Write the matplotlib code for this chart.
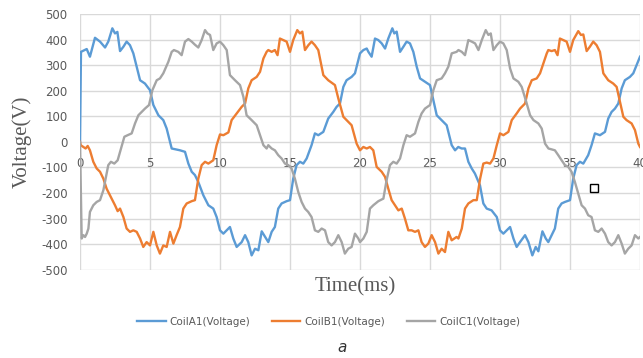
import matplotlib
matplotlib.use("Agg")
import matplotlib.pyplot as plt
from matplotlib.lines import Line2D

# ---- data: coil voltages (V) against time (ms) ----
t_a = [0, 0.07, 0.48, 0.71, 1.07, 1.43, 1.79, 2.02, 2.31, 2.5, 2.67, 2.86, 3.1, 3.33, 3.57, 3.81,
       4.05, 4.29, 4.64, 5.0, 5.24, 5.6, 5.95, 6.19, 6.55, 7.14, 7.5, 7.74, 7.98, 8.21, 8.45, 8.81,
       9.17, 9.52, 9.76, 10.0, 10.24, 10.48, 10.71, 10.95, 11.19, 11.55, 11.79, 12.02, 12.26, 12.5,
       12.74, 12.98, 13.45, 13.69, 13.92, 14.16, 14.4, 14.76, 15.0, 15.23, 15.47, 15.71, 15.95,
       16.19, 16.54, 16.78, 17.02, 17.38, 17.73, 18.09, 18.33, 18.57, 18.81, 19.04, 19.4, 19.64,
       20.0, 20.24, 20.48, 20.6, 20.83, 21.07, 21.31, 21.55, 21.79, 22.02, 22.31, 22.45, 22.62,
       22.86, 23.1, 23.33, 23.57, 23.81, 24.05, 24.29, 24.64, 25.0, 25.24, 25.48, 25.83, 26.19,
       26.55, 26.79, 27.02, 27.26, 27.5, 27.74, 27.98, 28.21, 28.57, 28.81, 29.05, 29.4, 29.77,
       30.0, 30.24, 30.48, 30.72, 30.96, 31.19, 31.43, 31.79, 32.03, 32.31, 32.55, 32.74, 33.03,
       33.27, 33.45, 33.69, 33.92, 34.16, 34.4, 34.64, 35.0, 35.23, 35.47, 35.71, 35.95, 36.3,
       36.54, 36.78, 37.14, 37.5, 37.73, 37.97, 38.21, 38.45, 38.69, 38.92, 39.28, 39.52, 39.76, 40.0]
v_a = [0, 352, 363, 333, 407, 392, 369, 392, 444, 424, 430, 355, 372, 392, 378, 346,
       294, 241, 228, 202, 144, 104, 85, 52, -26, -33, -39, -85, -117, -130, -157, -209,
       -248, -261, -294, -346, -359, -346, -333, -378, -411, -392, -365, -392, -444, -418,
       -424, -350, -392, -352, -333, -261, -241, -232, -228, -144, -91, -78, -85,
       -65, -13, 33, 26, 39, 91, 117, 137, 150, 215, 241, 254, 268,
       346, 359, 365, 352, 333, 404, 398, 385, 365, 404, 444, 424, 431,
       352, 372, 392, 385, 352, 294, 248, 235, 222, 163, 104, 85, 65,
       -13, -33, -20, -26, -26, -78, -104, -124, -170, -241, -261, -268, -294,
       -346, -359, -346, -333, -378, -411, -392, -365, -392, -444, -411, -428, -350,
       -378, -392, -365, -339, -261, -241, -235, -228, -144, -91, -78, -85, -52,
       -13, 33, 26, 39, 91, 117, 130, 150, 209, 241, 254, 268, 300, 333]

t_b = [0, 0.05, 0.24, 0.4, 0.55, 0.71, 0.95, 1.19, 1.43, 1.67, 1.9, 2.26, 2.5, 2.69, 2.86, 3.1,
       3.33, 3.57, 3.81, 4.05, 4.29, 4.52, 4.76, 5.0, 5.24, 5.48, 5.71, 5.95, 6.19, 6.43, 6.67,
       6.9, 7.14, 7.38, 7.62, 7.98, 8.21, 8.45, 8.69, 8.93, 9.17, 9.52, 9.76, 10.0, 10.24, 10.6,
       10.83, 11.19, 11.55, 11.79, 12.02, 12.26, 12.62, 12.86, 13.1, 13.33, 13.45, 13.69, 13.92,
       14.11, 14.28, 14.52, 14.76, 15.0, 15.23, 15.52, 15.71, 15.88, 16.07, 16.31, 16.54, 16.78,
       17.02, 17.38, 17.73, 18.21, 18.45, 18.81, 19.04, 19.4, 19.76, 20.0, 20.24, 20.48, 20.71,
       20.95, 21.19, 21.55, 21.79, 22.02, 22.26, 22.5, 22.74, 22.98, 23.21, 23.45, 23.69, 23.93,
       24.17, 24.4, 24.64, 24.88, 25.12, 25.36, 25.6, 25.83, 26.07, 26.31, 26.55, 26.9, 27.03,
       27.27, 27.5, 27.74, 28.1, 28.34, 28.58, 28.81, 29.05, 29.29, 29.53, 29.77, 30.0, 30.24,
       30.6, 30.84, 31.19, 31.43, 31.79, 32.03, 32.27, 32.62, 32.86, 33.1, 33.34, 33.45, 33.69,
       33.92, 34.11, 34.28, 34.52, 34.76, 35.0, 35.23, 35.59, 35.78, 35.95, 36.19, 36.42, 36.66,
       36.9, 37.14, 37.38, 37.73, 38.09, 38.33, 38.57, 38.81, 39.04, 39.4, 39.64, 39.88, 40.0]
v_b = [0, -13, -20, -26, -16, -33, -78, -104, -117, -144, -183, -222, -248, -271, -261, -294,
       -339, -352, -346, -352, -378, -411, -392, -405, -352, -405, -437, -405, -411, -352, -398,
       -365, -333, -261, -241, -232, -228, -144, -91, -78, -85, -72, -13, 29, 26, 37,
       85, 111, 137, 150, 209, 241, 254, 274, 326, 352, 359, 352, 359,
       339, 404, 398, 392, 352, 398, 437, 424, 431, 359, 378, 392, 378,
       359, 261, 241, 222, 170, 98, 85, 65, -7, -33, -20, -26, -20,
       -33, -98, -117, -137, -183, -228, -248, -268, -261, -300, -346, -346, -352,
       -346, -392, -411, -398, -365, -392, -437, -418, -431, -352, -385, -372, -378,
       -339, -261, -241, -228, -228, -144, -85, -81, -85, -65, -13, 33, 26,
       39, 85, 111, 130, 150, 209, 241, 248, 268, 307, 346, 359, 355,
       359, 339, 404, 398, 392, 352, 398, 433, 418, 420, 355, 372, 392,
       378, 352, 268, 241, 228, 215, 157, 98, 85, 72, 46, -7, -20]

t_c = [0, 0.12, 0.24, 0.36, 0.48, 0.6, 0.71, 0.95, 1.19, 1.43, 1.67, 1.83, 2.02, 2.21, 2.45, 2.69,
       2.93, 3.17, 3.4, 3.69, 3.93, 4.17, 4.4, 4.64, 4.93, 5.17, 5.48, 5.71, 5.95, 6.31, 6.55,
       6.71, 7.02, 7.26, 7.5, 7.74, 7.98, 8.21, 8.45, 8.69, 8.93, 9.1, 9.29, 9.52, 9.76, 10.0,
       10.24, 10.48, 10.71, 11.07, 11.43, 11.67, 11.9, 12.26, 12.62, 12.86, 13.1, 13.33, 13.45,
       13.69, 13.92, 14.16, 14.4, 14.64, 14.88, 15.11, 15.35, 15.59, 15.83, 16.07, 16.3, 16.54,
       16.78, 17.02, 17.26, 17.5, 17.73, 17.97, 18.21, 18.45, 18.69, 18.92, 19.16, 19.4, 19.64,
       19.88, 20.0, 20.24, 20.48, 20.71, 20.95, 21.31, 21.67, 21.9, 22.14, 22.38, 22.62, 22.86,
       23.1, 23.33, 23.57, 23.93, 24.17, 24.4, 24.64, 25.0, 25.24, 25.48, 25.83, 26.07, 26.31,
       26.55, 26.9, 27.03, 27.27, 27.5, 27.74, 27.98, 28.22, 28.46, 28.7, 28.98, 29.17, 29.34,
       29.53, 29.77, 30.0, 30.24, 30.48, 30.72, 30.96, 31.31, 31.55, 31.84, 32.15, 32.39, 32.74,
       32.98, 33.22, 33.46, 33.92, 34.16, 34.4, 34.64, 34.88, 35.11, 35.35, 35.59, 35.83, 36.07,
       36.3, 36.54, 36.78, 37.02, 37.26, 37.5, 37.73, 37.97, 38.21, 38.45, 38.69, 38.92, 39.16,
       39.4, 39.64, 39.88, 40.0]
v_c = [0, -378, -365, -372, -359, -339, -274, -248, -235, -228, -189, -144, -91, -78, -85, -72,
       -26, 20, 26, 33, 72, 104, 117, 130, 144, 202, 241, 248, 268, 313, 352,
       359, 352, 339, 392, 402, 392, 380, 369, 398, 437, 424, 418, 359, 385, 392,
       378, 359, 261, 241, 222, 176, 104, 85, 65, 26, -13, -26, -13,
       -26, -33, -52, -65, -85, -91, -104, -144, -196, -235, -261, -274, -294,
       -346, -352, -339, -346, -392, -405, -392, -365, -392, -437, -418, -411, -359,
       -378, -392, -378, -352, -261, -248, -232, -222, -150, -91, -78, -85, -65,
       -13, 26, 20, 33, 78, 111, 130, 144, 202, 241, 248, 268, 294,
       346, 352, 359, 352, 339, 398, 392, 385, 359, 398, 437, 418, 424,
       359, 378, 392, 385, 359, 287, 248, 235, 215, 163, 104, 85, 72,
       52, -7, -26, -33, -52, -72, -91, -98, -117, -157, -202, -248, -261,
       -287, -294, -346, -352, -339, -359, -392, -405, -392, -365, -398, -437, -418,
       -405, -365, -378, -372]

series_names = ["CoilA1(Voltage)", "CoilB1(Voltage)", "CoilC1(Voltage)"]
series_colors = ["#5B9BD5", "#ED7D31", "#A5A5A5"]

x_ticks = [0, 5, 10, 15, 20, 25, 30, 35, 40]
y_ticks = [-500, -400, -300, -200, -100, 0, 100, 200, 300, 400, 500]

# stray square marker inside the plot area
marker_t = [36.7]
marker_v = [-179]

# ---- figure ----
fig = plt.figure(figsize=(6.43, 3.58), dpi=100)
ax = fig.add_axes([80 / 643, 1 - 269.7 / 358, 560 / 643, (269.7 - 14) / 358])

grid_color = "#D9D9D9"
text_color = "#595959"

for t, v, name, col in zip([t_a, t_b, t_c], [v_a, v_b, v_c], series_names, series_colors):
    ax.plot(t, v, color=col, lw=1.7, label=name, solid_joinstyle="round", zorder=3)

ax.plot(marker_t, marker_v, ls="none", marker="s", ms=5.5, mfc="white", mec="black", mew=1.0, zorder=4)

ax.set_xlim(0, 40)
ax.set_ylim(-500, 500)
ax.set_xticks(x_ticks)
ax.set_yticks(y_ticks)
ax.set_yticklabels([str(v) for v in y_ticks])
ax.grid(True, color=grid_color, lw=1.0, zorder=0)

for side in ["top", "right", "left"]:
    ax.spines[side].set_visible(False)
ax.spines["bottom"].set_position(("data", 0))
ax.spines["bottom"].set_visible(False)

ax.tick_params(axis="both", length=0, labelsize=8.5, labelcolor=text_color)
ax.tick_params(axis="x", pad=11)
ax.tick_params(axis="y", pad=9)
for lbl in ax.get_xticklabels() + ax.get_yticklabels():
    lbl.set_fontfamily("DejaVu Sans")

# axis titles
fig.text(355 / 643, 1 - 287 / 358, "Time(ms)", family="Liberation Serif", fontsize=15,
         color=text_color, ha="center", va="center")
fig.text(22 / 643, 1 - 142 / 358, "Voltage(V)", family="Liberation Serif", fontsize=15,
         color=text_color, ha="center", va="center", rotation=90)

# legend
handles = [Line2D([0], [0], color=c, lw=1.7) for c in series_colors]
leg = fig.legend(handles, series_names, loc="center", bbox_to_anchor=(329 / 643, 1 - 322 / 358),
                 ncol=3, frameon=False, fontsize=7.5, handlelength=2.7, handletextpad=0.4,
                 columnspacing=2.1)
for txt in leg.get_texts():
    txt.set_color(text_color)

fig.text(342 / 643, 1 - 348 / 358, "a", fontsize=11, style="italic", color="#333333",
         ha="center", va="center")

fig.savefig("out.png", dpi=100)
